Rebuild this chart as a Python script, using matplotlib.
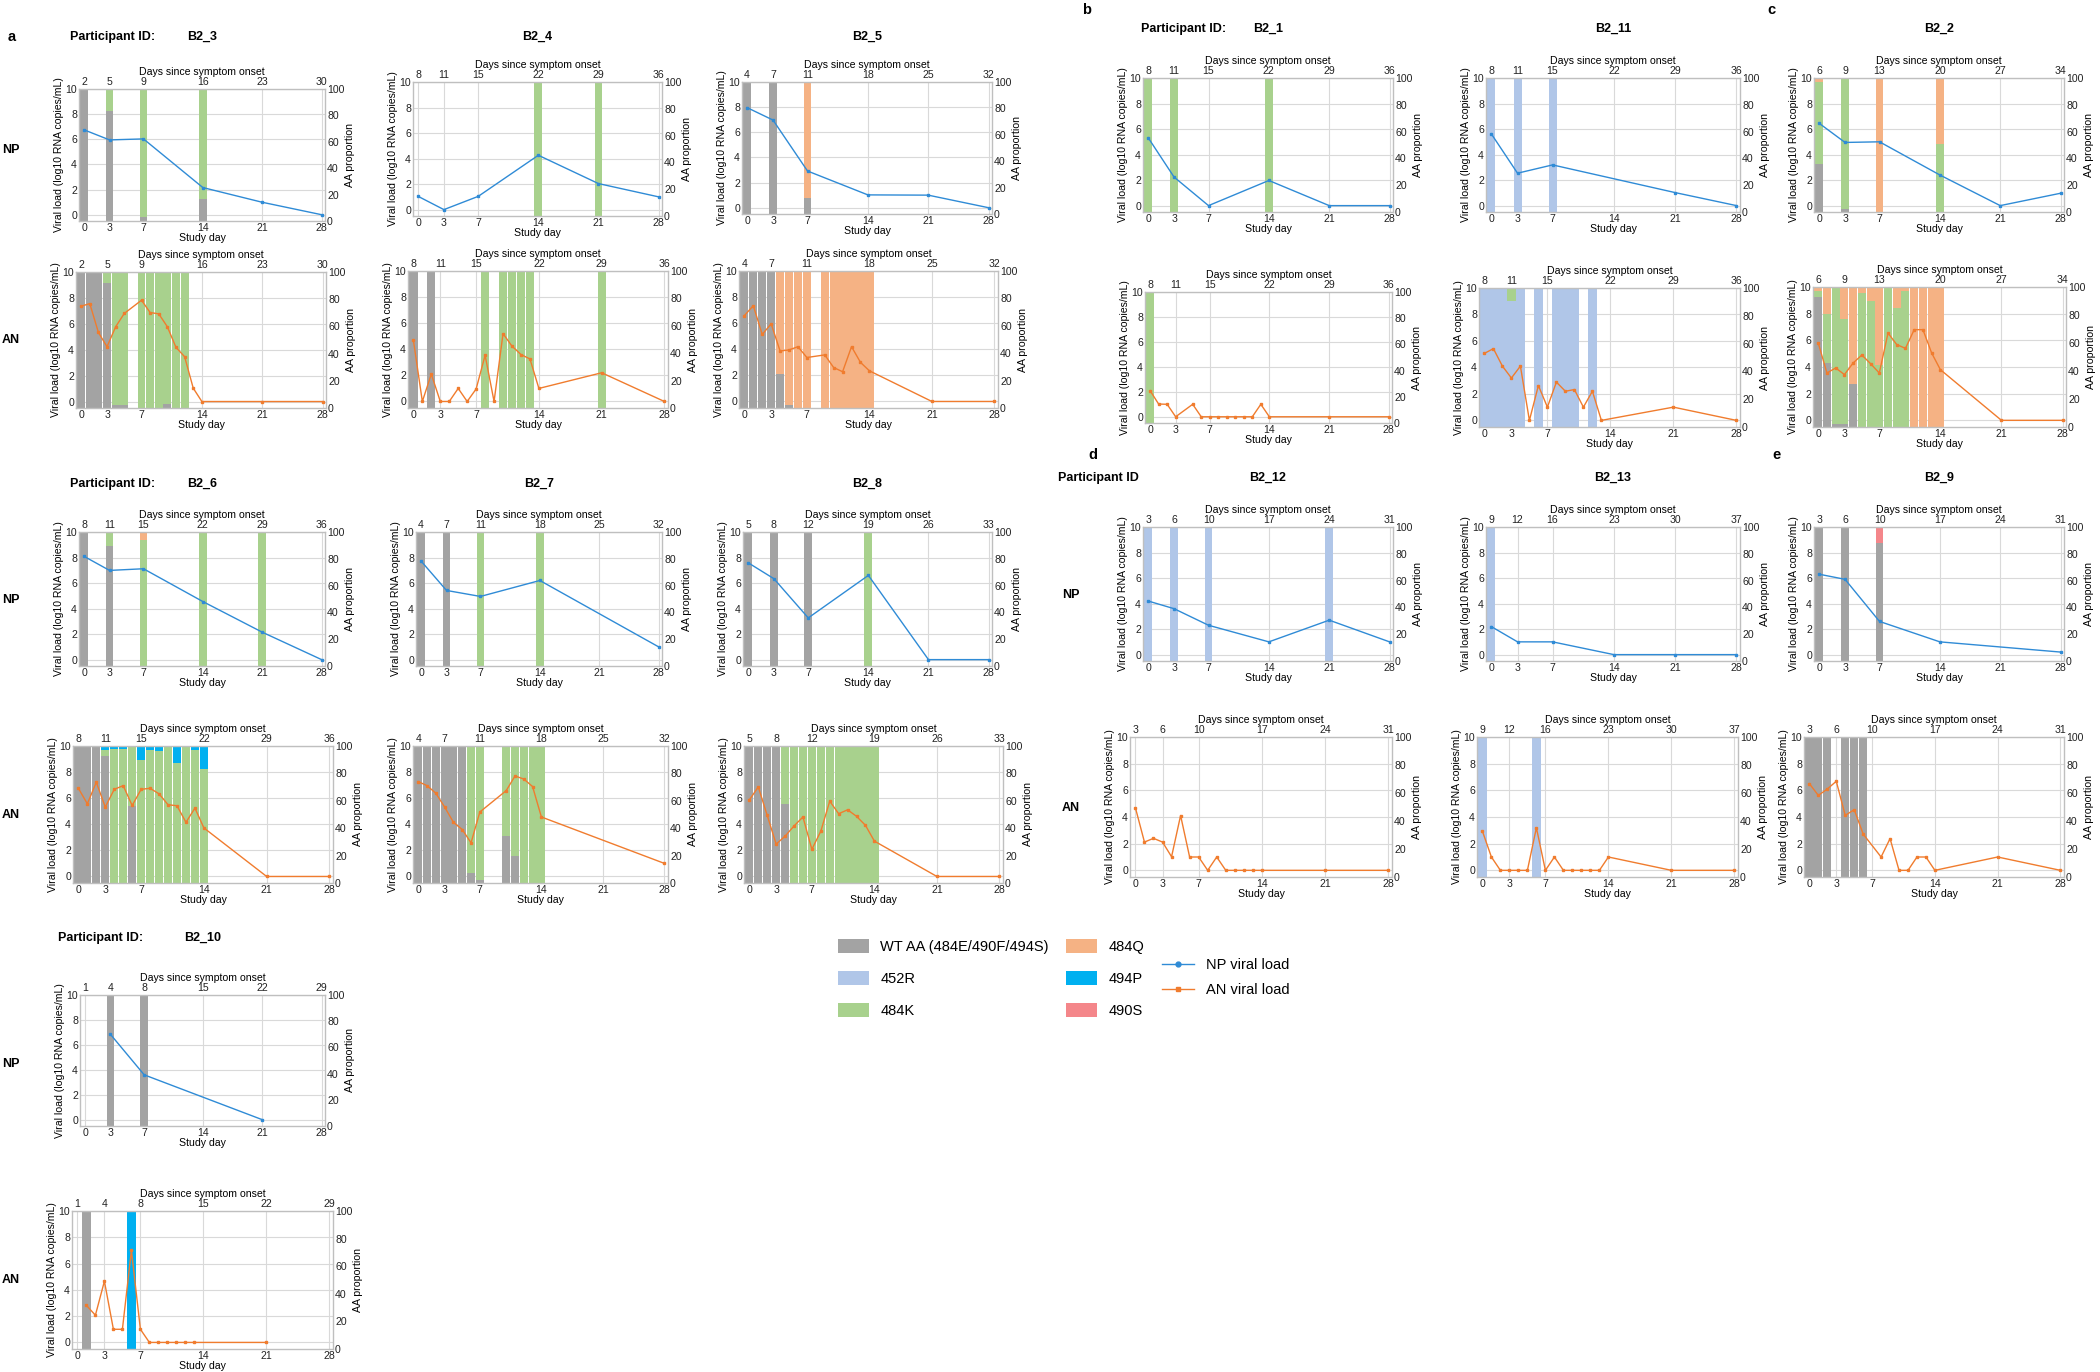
import matplotlib
matplotlib.use('Agg')
import matplotlib.pyplot as plt
from matplotlib.patches import Patch
from matplotlib.lines import Line2D

plt.rcParams['font.family'] = ['Liberation Sans', 'DejaVu Sans']

# ---------------- data ----------------
VARIANTS = ['WT AA (484E/490F/494S)', '452R', '484K', '484Q', '494P', '490S']
STUDY_TICKS = [0, 3, 7, 14, 21, 28]
ONSET = {'B2_3': 2, 'B2_4': 8, 'B2_5': 4, 'B2_1': 8, 'B2_11': 8, 'B2_2': 6,
         'B2_6': 8, 'B2_7': 4, 'B2_8': 5, 'B2_10': 1, 'B2_12': 3, 'B2_13': 9, 'B2_9': 3}

# bar proportions per sampled day: (WT, 452R, 484K, 484Q, 494P, 490S)
WT = (100, 0, 0, 0, 0, 0)
R452 = (0, 100, 0, 0, 0, 0)
K484 = (0, 0, 100, 0, 0, 0)
Q484 = (0, 0, 0, 100, 0, 0)
P494 = (0, 0, 0, 0, 100, 0)

B2_3_NP_DAYS = [0, 3, 7, 14, 21, 28]
B2_3_NP_VL = [6.75, 5.95, 6.03, 2.16, 0.99, 0.0]
B2_3_NP_AA = {0: WT, 3: (83, 0, 17, 0, 0, 0), 7: (3, 0, 97, 0, 0, 0), 14: (17, 0, 83, 0, 0, 0)}
B2_3_AN_DAYS = [0, 1, 2, 3, 4, 5, 7, 8, 9, 10, 11, 12, 13, 14, 21, 28]
B2_3_AN_VL = [7.36, 7.56, 5.33, 4.23, 5.77, 6.8, 7.82, 6.87, 6.77, 5.77, 4.18, 3.46, 1.03, 0, 0, 0]
B2_3_AN_AA = {0: WT, 1: WT, 2: WT, 3: (92, 0, 8, 0, 0, 0), 4: (2, 0, 98, 0, 0, 0), 5: (2, 0, 98, 0, 0, 0),
              7: K484, 8: K484, 9: K484, 10: (3, 0, 97, 0, 0, 0), 11: K484, 12: K484}

B2_4_NP_DAYS = [0, 3, 7, 14, 21, 28]
B2_4_NP_VL = [1.04, 0, 1.04, 4.26, 2.04, 1.0]
B2_4_NP_AA = {14: K484, 21: K484}
B2_4_AN_DAYS = [0, 1, 2, 3, 4, 5, 6, 7, 8, 9, 10, 11, 12, 13, 14, 21, 28]
B2_4_AN_VL = [4.7, 0, 2.1, 0, 0, 1.0, 0, 0.96, 3.54, 0, 5.2, 4.24, 3.6, 3.26, 1.0, 2.2, 0]
B2_4_AN_AA = {0: WT, 2: WT, 8: K484, 10: K484, 11: K484, 12: K484, 13: K484, 21: K484}

B2_5_NP_DAYS = [0, 3, 7, 14, 21, 28]
B2_5_NP_VL = [7.96, 6.97, 2.92, 1.02, 1.0, 0]
B2_5_NP_AA = {0: WT, 3: WT, 7: (12, 0, 0, 88, 0, 0)}
B2_5_AN_DAYS = [0, 1, 2, 3, 4, 5, 6, 7, 9, 10, 11, 12, 13, 14, 21, 28]
B2_5_AN_VL = [6.58, 7.34, 5.14, 5.95, 3.87, 3.95, 4.2, 3.37, 3.57, 2.6, 2.28, 4.2, 3.0, 2.35, 0, 0]
B2_5_AN_AA = {0: WT, 1: WT, 2: WT, 3: WT, 4: (25, 0, 0, 75, 0, 0), 5: (2, 0, 0, 98, 0, 0), 6: Q484, 7: Q484,
              9: Q484, 10: Q484, 11: Q484, 12: Q484, 13: Q484, 14: Q484}

B2_1_NP_DAYS = [0, 3, 7, 14, 21, 28]
B2_1_NP_VL = [5.32, 2.24, 0, 1.97, 0, 0]
B2_1_NP_AA = {0: K484, 3: K484, 14: K484}
B2_1_AN_DAYS = [0, 1, 2, 3, 5, 6, 7, 8, 9, 10, 11, 12, 13, 14, 21, 28]
B2_1_AN_VL = [2.09, 1.02, 1.0, 0, 1.0, 0, 0, 0, 0, 0, 0, 0, 1.0, 0, 0, 0]
B2_1_AN_AA = {0: K484}

B2_11_NP_DAYS = [0, 3, 7, 21, 28]
B2_11_NP_VL = [5.63, 2.54, 3.19, 1.02, 0]
B2_11_NP_AA = {0: R452, 3: R452, 7: R452}
B2_11_AN_DAYS = [0, 1, 2, 3, 4, 5, 6, 7, 8, 9, 10, 11, 12, 13, 21, 28]
B2_11_AN_VL = [5.06, 5.42, 4.1, 3.2, 4.1, 0, 2.63, 1.0, 2.89, 2.2, 2.33, 1.0, 2.2, 0, 1.0, 0]
B2_11_AN_AA = {0: R452, 1: R452, 2: R452, 3: (0, 91, 9, 0, 0, 0), 4: R452, 6: R452, 8: R452, 9: R452,
               10: R452, 12: R452}

B2_2_NP_DAYS = [0, 3, 7, 14, 21, 28]
B2_2_NP_VL = [6.45, 4.95, 5.0, 2.4, 0, 0.97]
B2_2_NP_AA = {0: (36, 0, 61, 3, 0, 0), 3: (2.5, 0, 97.5, 0, 0, 0), 7: Q484, 14: (0, 0, 51, 49, 0, 0)}
B2_2_AN_DAYS = [0, 1, 2, 3, 4, 5, 6, 7, 8, 9, 10, 11, 12, 13, 14, 21, 28]
B2_2_AN_VL = [5.8, 3.55, 3.93, 3.43, 4.3, 4.9, 4.25, 3.55, 6.55, 5.68, 5.4, 6.8, 6.8, 5.05, 3.8, 0, 0]
B2_2_AN_AA = {0: (93, 0, 4, 3, 0, 0), 1: (46, 0, 35, 19, 0, 0), 2: (2, 0, 98, 0, 0, 0),
              3: (2, 0, 75, 23, 0, 0), 4: (31, 0, 0, 69, 0, 0), 5: (0, 0, 96, 4, 0, 0),
              6: (0, 0, 90, 10, 0, 0), 7: (0, 0, 44, 56, 0, 0), 8: K484, 9: (0, 0, 85, 15, 0, 0),
              10: (0, 0, 97, 3, 0, 0), 11: Q484, 12: Q484, 13: Q484, 14: Q484}

B2_6_NP_DAYS = [0, 3, 7, 14, 21, 28]
B2_6_NP_VL = [8.09, 6.99, 7.12, 4.55, 2.15, 0]
B2_6_NP_AA = {0: WT, 3: (89.5, 0, 10.5, 0, 0, 0), 7: (0, 0, 94, 6, 0, 0), 14: K484, 21: K484}
B2_6_AN_DAYS = [0, 1, 2, 3, 4, 5, 6, 7, 8, 9, 10, 11, 12, 13, 14, 21, 28]
B2_6_AN_VL = [6.76, 5.57, 7.22, 5.32, 6.68, 6.96, 5.44, 6.68, 6.76, 6.33, 5.5, 5.42, 4.15, 5.24, 3.72, 0, 0]
B2_6_AN_AA = {0: WT, 1: WT, 2: WT, 3: (92.5, 0, 4.5, 0, 3, 0), 4: (0, 0, 97.5, 0, 2.5, 0),
              5: (0, 0, 97.5, 0, 2.5, 0), 6: (56, 0, 44, 0, 0, 0), 7: (0, 0, 89.5, 0, 10.5, 0),
              8: (0, 0, 97, 0, 3, 0), 9: (0, 0, 96, 0, 4, 0), 10: K484, 11: (0, 0, 87.5, 0, 12.5, 0),
              12: K484, 13: (0, 0, 97, 0, 3, 0), 14: (0, 0, 83.5, 0, 16.5, 0)}

B2_7_NP_DAYS = [0, 3, 7, 14, 28]
B2_7_NP_VL = [7.72, 5.42, 4.95, 6.2, 1.0]
B2_7_NP_AA = {0: WT, 3: WT, 7: K484, 14: K484}
B2_7_AN_DAYS = [0, 1, 2, 3, 4, 5, 6, 7, 10, 11, 12, 13, 14, 28]
B2_7_AN_VL = [7.27, 6.96, 6.38, 5.32, 4.15, 3.6, 2.58, 4.94, 6.58, 7.7, 7.47, 6.89, 4.56, 1.0]
B2_7_AN_AA = {0: WT, 1: WT, 2: WT, 3: WT, 4: WT, 5: WT, 6: (7, 0, 93, 0, 0, 0), 7: (2, 0, 98, 0, 0, 0),
              10: (34, 0, 66, 0, 0, 0), 11: (20, 0, 80, 0, 0, 0), 12: K484, 13: K484, 14: K484}

B2_8_NP_DAYS = [0, 3, 7, 14, 21, 28]
B2_8_NP_VL = [7.59, 6.34, 3.27, 6.6, 0, 0]
B2_8_NP_AA = {0: WT, 3: WT, 7: WT, 14: K484}
B2_8_AN_DAYS = [0, 1, 2, 3, 4, 5, 6, 7, 8, 9, 10, 11, 12, 13, 14, 21, 28]
B2_8_AN_VL = [5.87, 6.86, 4.68, 2.48, 3.09, 3.87, 4.56, 2.08, 3.47, 5.77, 4.81, 5.11, 4.61, 3.92, 2.71, 0, 0]
B2_8_AN_AA = {0: WT, 1: WT, 2: WT, 3: WT, 4: (58, 0, 42, 0, 0, 0), 5: K484, 6: K484, 7: K484, 8: K484,
              9: K484, 10: K484, 11: K484, 12: K484, 13: K484, 14: K484}

B2_10_NP_DAYS = [3, 7, 21]
B2_10_NP_VL = [6.85, 3.6, 0]
B2_10_NP_AA = {3: WT, 7: WT}
B2_10_AN_DAYS = [1, 2, 3, 4, 5, 6, 7, 8, 9, 10, 11, 12, 13, 21]
B2_10_AN_VL = [2.82, 2.07, 4.66, 1.0, 1.0, 7.0, 1.0, 0, 0, 0, 0, 0, 0, 0]
B2_10_AN_AA = {1: WT, 6: P494}

B2_12_NP_DAYS = [0, 3, 7, 14, 21, 28]
B2_12_NP_VL = [4.2, 3.6, 2.3, 1.0, 2.7, 1.0]
B2_12_NP_AA = {0: R452, 3: R452, 7: R452, 21: R452}
B2_12_AN_DAYS = [0, 1, 2, 3, 4, 5, 6, 7, 8, 9, 10, 11, 12, 13, 14, 21, 28]
B2_12_AN_VL = [4.69, 2.12, 2.4, 2.12, 1.02, 4.11, 1.0, 1.0, 0, 1.0, 0, 0, 0, 0, 0, 0, 0]
B2_12_AN_AA = {}

B2_13_NP_DAYS = [0, 3, 7, 14, 21, 28]
B2_13_NP_VL = [2.2, 1.0, 1.0, 0, 0, 0]
B2_13_NP_AA = {0: R452}
B2_13_AN_DAYS = [0, 1, 2, 3, 4, 5, 6, 7, 8, 9, 10, 11, 12, 13, 14, 21, 28]
B2_13_AN_VL = [2.94, 1.0, 0, 0, 0, 0, 3.19, 0, 1.0, 0, 0, 0, 0, 0, 1.0, 0, 0]
B2_13_AN_AA = {0: R452, 6: R452}

B2_9_NP_DAYS = [0, 3, 7, 14, 28]
B2_9_NP_VL = [6.3, 5.9, 2.6, 1.0, 0.2]
B2_9_NP_AA = {0: WT, 3: WT, 7: (88, 0, 0, 0, 0, 12)}
B2_9_AN_DAYS = [0, 1, 2, 3, 4, 5, 6, 8, 9, 10, 11, 12, 13, 14, 21, 28]
B2_9_AN_VL = [6.5, 5.62, 6.1, 6.68, 4.12, 4.55, 2.72, 1.0, 2.38, 0, 0, 1.0, 1.0, 0, 1.0, 0]
B2_9_AN_AA = {0: WT, 1: WT, 2: WT, 4: WT, 5: WT, 6: WT}

PANELS = {
    'B2_3': (B2_3_NP_DAYS, B2_3_NP_VL, B2_3_NP_AA, B2_3_AN_DAYS, B2_3_AN_VL, B2_3_AN_AA),
    'B2_4': (B2_4_NP_DAYS, B2_4_NP_VL, B2_4_NP_AA, B2_4_AN_DAYS, B2_4_AN_VL, B2_4_AN_AA),
    'B2_5': (B2_5_NP_DAYS, B2_5_NP_VL, B2_5_NP_AA, B2_5_AN_DAYS, B2_5_AN_VL, B2_5_AN_AA),
    'B2_1': (B2_1_NP_DAYS, B2_1_NP_VL, B2_1_NP_AA, B2_1_AN_DAYS, B2_1_AN_VL, B2_1_AN_AA),
    'B2_11': (B2_11_NP_DAYS, B2_11_NP_VL, B2_11_NP_AA, B2_11_AN_DAYS, B2_11_AN_VL, B2_11_AN_AA),
    'B2_2': (B2_2_NP_DAYS, B2_2_NP_VL, B2_2_NP_AA, B2_2_AN_DAYS, B2_2_AN_VL, B2_2_AN_AA),
    'B2_6': (B2_6_NP_DAYS, B2_6_NP_VL, B2_6_NP_AA, B2_6_AN_DAYS, B2_6_AN_VL, B2_6_AN_AA),
    'B2_7': (B2_7_NP_DAYS, B2_7_NP_VL, B2_7_NP_AA, B2_7_AN_DAYS, B2_7_AN_VL, B2_7_AN_AA),
    'B2_8': (B2_8_NP_DAYS, B2_8_NP_VL, B2_8_NP_AA, B2_8_AN_DAYS, B2_8_AN_VL, B2_8_AN_AA),
    'B2_10': (B2_10_NP_DAYS, B2_10_NP_VL, B2_10_NP_AA, B2_10_AN_DAYS, B2_10_AN_VL, B2_10_AN_AA),
    'B2_12': (B2_12_NP_DAYS, B2_12_NP_VL, B2_12_NP_AA, B2_12_AN_DAYS, B2_12_AN_VL, B2_12_AN_AA),
    'B2_13': (B2_13_NP_DAYS, B2_13_NP_VL, B2_13_NP_AA, B2_13_AN_DAYS, B2_13_AN_VL, B2_13_AN_AA),
    'B2_9': (B2_9_NP_DAYS, B2_9_NP_VL, B2_9_NP_AA, B2_9_AN_DAYS, B2_9_AN_VL, B2_9_AN_AA),
}

# ---------------- styles / layout ----------------
VAR_COLORS = ['#a3a3a3', '#b0c6e8', '#a8d18d', '#f5b284', '#00b0f0', '#f4868a']
NP_COLOR = '#2f8bd6'
AN_COLOR = '#f07c2e'
GRID = '#d9d9d9'
SPINE = '#bfbfbf'
FS = 7.6

W, H = 2100, 1372
# (left, right, top, bottom) in pixels for NP and AN axes
LAYOUT = {
    'B2_3': ((79, 325, 89, 221), (76, 326, 272, 408)),
    'B2_4': ((413, 662, 82, 216), (408, 668, 271, 408)),
    'B2_5': ((742, 992, 82, 214), (739, 998, 271, 408)),
    'B2_1': ((1143, 1393, 78, 212), (1145, 1392, 292, 423)),
    'B2_11': ((1486, 1740, 78, 212), (1479, 1740, 288, 427)),
    'B2_2': ((1814, 2064, 78, 212), (1813, 2066, 287, 427)),
    'B2_6': ((79, 325, 532, 666), (73, 333, 746, 883)),
    'B2_7': ((416, 662, 532, 666), (413, 668, 746, 883)),
    'B2_8': ((743, 992, 532, 666), (744, 1003, 746, 883)),
    'B2_10': ((80, 325, 995, 1126), (72, 333, 1211, 1349)),
    'B2_12': ((1143, 1393, 527, 661), (1130, 1392, 737, 877)),
    'B2_13': ((1486, 1740, 527, 661), (1477, 1738, 737, 877)),
    'B2_9': ((1814, 2064, 527, 661), (1804, 2064, 737, 877)),
}

fig = plt.figure(figsize=(W / 100, H / 100), dpi=100)


def fx(x):
    return x / W


def fy(y):
    return 1 - y / H


def draw_panel(rect, onset, days, vl, aa, color):
    l, r, t, b = rect
    axb = fig.add_axes([fx(l), fy(b), (r - l) / W, (b - t) / H])
    axl = axb.twinx()

    axb.set_xlim(-0.6, 28.4)
    axb.set_ylim(0, 100)
    for v in range(0, 11, 2):
        axb.axhline((v + 0.5) / 10.5 * 100, color=GRID, lw=0.8, zorder=0)
    for tk in STUDY_TICKS:
        axb.axvline(tk, color=GRID, lw=0.8, zorder=0)
    for d, props in aa.items():
        bottom = 0
        for p, c in zip(props, VAR_COLORS):
            if p > 0:
                axb.bar(d, p, bottom=bottom, width=0.92, color=c, linewidth=0, zorder=2)
            bottom += p
    axb.yaxis.tick_right()
    axb.yaxis.set_label_position('right')
    axb.set_yticks([0, 20, 40, 60, 80, 100])
    axb.set_ylabel('AA proportion', fontsize=FS, labelpad=0.5)
    axb.set_xticks(STUDY_TICKS)
    axb.set_xlabel('Study day', fontsize=FS, labelpad=0)
    axb.tick_params(length=0, pad=1.5, labelsize=FS, colors='#222222')
    for s in axb.spines.values():
        s.set_color(SPINE)
        s.set_linewidth(1.0)

    sec = axb.secondary_xaxis('top')
    sec.set_xticks(STUDY_TICKS, labels=[str(tk + onset) for tk in STUDY_TICKS])
    sec.set_xlabel('Days since symptom onset', fontsize=FS, labelpad=1.5)
    sec.tick_params(length=0, pad=1.5, labelsize=FS, colors='#222222')
    for s in sec.spines.values():
        s.set_visible(False)

    axl.set_ylim(-0.5, 10)
    axl.yaxis.tick_left()
    axl.yaxis.set_label_position('left')
    axl.set_yticks([0, 2, 4, 6, 8, 10])
    axl.set_ylabel('Viral load (log10 RNA copies/mL)', fontsize=FS, labelpad=1)
    axl.tick_params(length=0, pad=1.5, labelsize=FS, colors='#222222')
    for s in axl.spines.values():
        s.set_visible(False)
    axl.plot(days, vl, color=color, lw=1.0, marker='s', ms=2.0, zorder=3, clip_on=False)


for pid, (npd, npv, npa, and_, anv, ana) in PANELS.items():
    np_rect, an_rect = LAYOUT[pid]
    draw_panel(np_rect, ONSET[pid], npd, npv, npa, NP_COLOR)
    draw_panel(an_rect, ONSET[pid], and_, anv, ana, AN_COLOR)

# ---------------- texts ----------------
BOLD = dict(fontweight='bold', fontsize=9, va='center')
LET = dict(fontweight='bold', fontsize=10.5, va='center')
fig.text(fx(8), fy(37), 'a', **LET)
fig.text(fx(1082), fy(10), 'b', **LET)
fig.text(fx(1767), fy(10), 'c', **LET)
fig.text(fx(1088), fy(455), 'd', **LET)
fig.text(fx(1772), fy(455), 'e', **LET)

fig.text(fx(70), fy(37), 'Participant ID:', **BOLD)
fig.text(fx(70), fy(484), 'Participant ID:', **BOLD)
fig.text(fx(58), fy(938), 'Participant ID:', **BOLD)
fig.text(fx(1141), fy(29), 'Participant ID:', **BOLD)
fig.text(fx(1058), fy(478), 'Participant ID', **BOLD)

TITLE_Y = {'B2_3': 37, 'B2_4': 37, 'B2_5': 37, 'B2_1': 29, 'B2_11': 29, 'B2_2': 29,
           'B2_6': 484, 'B2_7': 484, 'B2_8': 484, 'B2_10': 938, 'B2_12': 478, 'B2_13': 478, 'B2_9': 478}
for pid, y in TITLE_Y.items():
    l, r, t, b = LAYOUT[pid][0]
    fig.text(fx((l + r) / 2), fy(y), pid, ha='center', **BOLD)

for (x, y, s) in [(2, 150, 'NP'), (2, 340, 'AN'), (2, 600, 'NP'), (2, 815, 'AN'),
                  (2, 1064, 'NP'), (2, 1280, 'AN'), (1062, 595, 'NP'), (1062, 808, 'AN')]:
    fig.text(fx(x), fy(y), s, **BOLD)

# ---------------- legends ----------------
patches = [Patch(facecolor=c, edgecolor='none', label=v) for v, c in zip(VARIANTS, VAR_COLORS)]
leg_kw = dict(frameon=False, fontsize=10.5, handlelength=2.1, handleheight=1.05,
              handletextpad=0.8, labelspacing=1.2, borderpad=0, borderaxespad=0, loc='upper left')
fig.legend(handles=patches[:3], bbox_to_anchor=(fx(838), fy(939)), **leg_kw)
fig.legend(handles=patches[3:], bbox_to_anchor=(fx(1066), fy(939)), **leg_kw)
lines = [Line2D([], [], color=NP_COLOR, lw=1.0, marker='o', ms=3.5, label='NP viral load'),
         Line2D([], [], color=AN_COLOR, lw=1.0, marker='s', ms=2.8, label='AN viral load')]
fig.legend(handles=lines, bbox_to_anchor=(fx(1162), fy(958)), frameon=False, fontsize=10.5,
           handlelength=2.2, handletextpad=0.8, labelspacing=0.75, borderpad=0, borderaxespad=0,
           loc='upper left')

fig.savefig('out.png', dpi=100)
